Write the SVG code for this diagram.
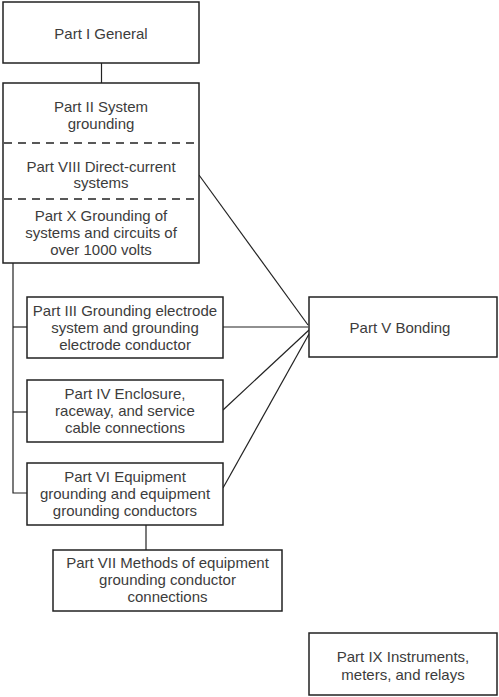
<svg xmlns="http://www.w3.org/2000/svg" width="499" height="697" viewBox="0 0 499 697">
<style>
.box{fill:#fff;stroke:#222;stroke-width:1.5}
.dash{stroke:#222;stroke-width:1.3;stroke-dasharray:8,6;fill:none}
.ln{stroke:#222;stroke-width:1.2;fill:none}
text{font-family:"Liberation Sans",Arial,sans-serif;font-size:15px;fill:#3c3c3c;text-anchor:middle}
</style>
<rect width="499" height="697" fill="#fff"/>
<g id="connectors">
<line class="ln" x1="101.5" y1="63" x2="101.5" y2="83"/>
<polyline class="ln" points="13,263 13,493 27,493"/>
<line class="ln" x1="13" y1="327" x2="27" y2="327"/>
<line class="ln" x1="13" y1="412" x2="27" y2="412"/>
<line class="ln" x1="146" y1="525" x2="146" y2="550"/>
<line class="ln" x1="199" y1="175" x2="308" y2="325"/>
<line class="ln" x1="223" y1="327" x2="308" y2="327"/>
<line class="ln" x1="223" y1="410" x2="309" y2="330"/>
<line class="ln" x1="223" y1="488" x2="309" y2="334"/>
</g>
<g id="part1">
<rect class="box" x="3" y="2" width="196" height="61"/>
<text x="101" y="39">Part I General</text>
</g>
<g id="part2">
<rect class="box" x="3" y="83" width="196" height="180"/>
<line class="dash" x1="4" y1="143" x2="198" y2="143"/>
<line class="dash" x1="4" y1="199" x2="198" y2="199"/>
<text x="101" y="112">Part II System</text>
<text x="101" y="129">grounding</text>
<text x="101" y="172">Part VIII Direct-current</text>
<text x="101" y="188">systems</text>
<text x="101" y="221">Part X Grounding of</text>
<text x="101" y="238">systems and circuits of</text>
<text x="101" y="255">over 1000 volts</text>
</g>
<g id="part3">
<rect class="box" x="27" y="297" width="196" height="61"/>
<text x="125" y="316">Part III Grounding electrode</text>
<text x="125" y="333">system and grounding</text>
<text x="125" y="350">electrode conductor</text>
</g>
<g id="part4">
<rect class="box" x="27" y="380" width="196" height="62"/>
<text x="125" y="399">Part IV Enclosure,</text>
<text x="125" y="416">raceway, and service</text>
<text x="125" y="433">cable connections</text>
</g>
<g id="part6">
<rect class="box" x="27" y="463" width="196" height="62"/>
<text x="125" y="482">Part VI Equipment</text>
<text x="125" y="499">grounding and equipment</text>
<text x="125" y="516">grounding conductors</text>
</g>
<g id="part7">
<rect class="box" x="53" y="550" width="229" height="61"/>
<text x="167.5" y="568">Part VII Methods of equipment</text>
<text x="167.5" y="585">grounding conductor</text>
<text x="167.5" y="602">connections</text>
</g>
<g id="part5">
<rect class="box" x="309" y="297" width="188" height="60"/>
<text x="400" y="333">Part V Bonding</text>
</g>
<g id="part9">
<rect class="box" x="309" y="633" width="188" height="62"/>
<text x="403" y="662">Part IX Instruments,</text>
<text x="403" y="680">meters, and relays</text>
</g>
</svg>
